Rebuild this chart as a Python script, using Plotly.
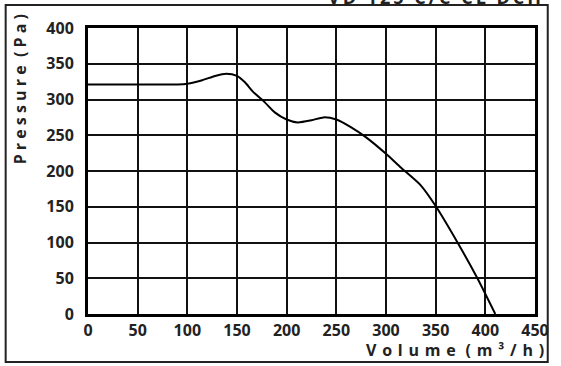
import plotly.graph_objects as go

volume = [0, 50, 90, 100, 115, 128, 139, 150, 158, 166, 178, 188, 200, 211, 225, 237, 250, 265, 280, 300, 314, 335, 350, 372, 392, 410]
pressure = [321, 321, 321, 322, 327, 333, 336, 333, 324, 311, 296, 282, 272, 268, 271, 275, 272, 261, 247, 224, 206, 180, 151, 100, 50, 0]
x_ticks = [0, 50, 100, 150, 200, 250, 300, 350, 400, 450]
y_ticks = [0, 50, 100, 150, 200, 250, 300, 350, 400]

W, H = 561, 366
L, R, T, B = 88, 17, 28, 52
pw, ph = W - L - R, H - T - B

def px(x):
    return (x - L) / pw

def py(y):
    return (H - B - y) / ph

FONT = "Open Sans"

fig = go.Figure()
fig.add_trace(go.Scatter(x=volume, y=pressure, mode="lines",
                         line=dict(color="black", width=2, shape="spline", smoothing=0.7),
                         hoverinfo="skip", showlegend=False))

axis_common = dict(showgrid=True, gridcolor="#111", gridwidth=1.6, zeroline=False,
                   showline=True, linecolor="black", linewidth=3, mirror=True,
                   ticks="", tickfont=dict(family=FONT, size=16, color="#222", weight="bold"))
fig.update_xaxes(range=[0, 450], tickvals=x_ticks, ticktext=[str(v) for v in x_ticks],
                 ticklabelstandoff=0, **axis_common)
fig.update_yaxes(range=[0, 400], tickvals=y_ticks, ticktext=[str(v) for v in y_ticks],
                 ticklabelstandoff=8, **axis_common)

fig.add_annotation(x=px(555), y=py(350), xref="paper", yref="paper", xanchor="right", yanchor="middle",
                   text="V\u200a o\u200a l\u200a u\u200a m\u200a e\u200a  (\u200a m\u200a ³\u200a /\u200a h\u200a )",
                   showarrow=False,
                   font=dict(family=FONT, size=16, color="#222", weight="bold"))
fig.add_annotation(x=px(19), y=py(12), xref="paper", yref="paper", xanchor="center", yanchor="top",
                   text="P r e s s u r e  ( P a )",
                   textangle=-90, showarrow=False,
                   font=dict(family=FONT, size=16, color="#222", weight="bold"))
fig.add_annotation(x=px(552), y=py(-3), xref="paper", yref="paper", xanchor="right", yanchor="middle",
                   text="\u2009".join("VD 125 C/C CL DCH"), showarrow=False,
                   font=dict(family=FONT, size=18, color="#222", weight="bold"))

fig.add_shape(type="rect", xref="paper", yref="paper", x0=px(4), x1=px(557), y0=py(362), y1=py(5),
              line=dict(color="#222", width=2), layer="below")

fig.update_layout(width=W, height=H, margin=dict(l=L, r=R, t=T, b=B),
                  plot_bgcolor="white", paper_bgcolor="white", showlegend=False)
fig.write_html("out.html", config={"displayModeBar": False},
               post_script="document.body.style.margin='0';document.body.style.overflow='hidden';")
